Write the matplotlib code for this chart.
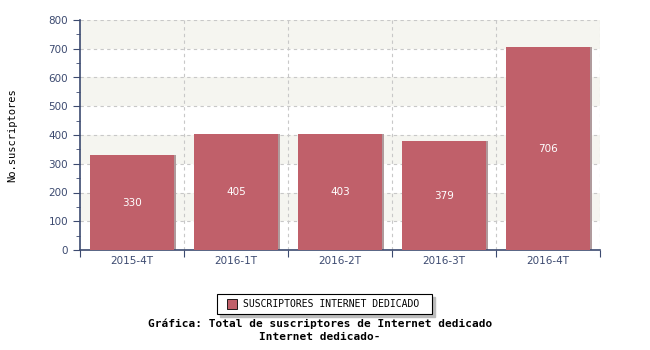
import matplotlib
matplotlib.use("Agg")
import matplotlib.pyplot as plt
from matplotlib.patches import Rectangle
import numpy as np

# data
categories = ["2015-4T", "2016-1T", "2016-2T", "2016-3T", "2016-4T"]
suscriptores = [330, 405, 403, 379, 706]
series_name = "SUSCRIPTORES INTERNET DEDICADO"

AXIS = "#3c4a70"
BAR = "#c0606a"

fig = plt.figure(figsize=(6.5, 3.5), dpi=100)
ax = fig.add_axes([80 / 650, 100 / 350, 520 / 650, 230 / 350])

x = np.arange(len(categories))
width = 0.81

# alternating background bands
for lo in range(100, 800, 200):
    ax.axhspan(lo, lo + 100, color="#f5f5f0", zorder=0, lw=0)

# dashed grid
for y in range(100, 801, 100):
    ax.axhline(y, color="#c8c8c8", ls=(0, (3, 3)), lw=0.8, zorder=1)
for b in np.arange(0.5, len(categories), 1.0):
    ax.axvline(b, color="#c8c8c8", ls=(0, (3, 3)), lw=0.8, zorder=1)

# bar shadows, then bars
ax.bar(x + 0.02, suscriptores, width=width, bottom=0, color="#b09a9c",
       zorder=2, lw=0)
bars = ax.bar(x, suscriptores, width=width, color=BAR, zorder=3, lw=0,
              label=series_name)

for xi, v in zip(x, suscriptores):
    ax.text(xi, v / 2, str(v), ha="center", va="center", color="white",
            fontsize=7.5, zorder=4)

ax.set_xlim(-0.5, len(categories) - 0.5)
ax.set_ylim(0, 800)
ax.set_yticks(range(0, 801, 100))
ax.set_yticks(range(50, 800, 100), minor=True)
ax.set_xticks(np.arange(-0.5, len(categories), 1.0))
ax.set_xticklabels([])
ax.set_xticks(x, minor=True)
ax.set_xticklabels(categories, minor=True)
ax.tick_params(axis="x", which="minor", length=0, labelsize=7.5,
               colors=AXIS, pad=4)
ax.tick_params(axis="x", which="major", length=5, color=AXIS)
ax.tick_params(axis="y", which="major", length=5, color=AXIS, labelsize=7.5,
               labelcolor=AXIS)
ax.tick_params(axis="y", which="minor", length=3, color=AXIS)

for s in ["top", "right"]:
    ax.spines[s].set_visible(False)
for s in ["left", "bottom"]:
    ax.spines[s].set_color(AXIS)
    ax.spines[s].set_linewidth(1.2)

fig.text(12 / 650, 1 - 135 / 350, "No.suscriptores", rotation=90,
         ha="center", va="center", fontsize=7.5, family="DejaVu Sans Mono")

# legend box with shadow
lx0, ly0, lw_, lh = 217 / 650, 1 - 314 / 350, 215 / 650, 20 / 350
fig.patches.append(Rectangle((lx0 + 3 / 650, ly0 - 3 / 350), lw_, lh,
                             transform=fig.transFigure, color="#bcbcbc",
                             zorder=1))
fig.patches.append(Rectangle((lx0, ly0), lw_, lh, transform=fig.transFigure,
                             facecolor="white", edgecolor="black", lw=0.8,
                             zorder=2))
fig.patches.append(Rectangle((227 / 650, 1 - 309 / 350), 10 / 650, 10 / 350,
                             transform=fig.transFigure, facecolor=BAR,
                             edgecolor="black", lw=0.6, zorder=3))
fig.text(243 / 650, 1 - 304 / 350, series_name, ha="left", va="center",
         fontsize=7, family="DejaVu Sans Mono", zorder=4)

fig.text(320 / 650, 1 - 324 / 350,
         "Gráfica: Total de suscriptores de Internet dedicado",
         ha="center", va="center", fontsize=8, fontweight="bold",
         family="DejaVu Sans Mono")
fig.text(320 / 650, 1 - 337 / 350, "Internet dedicado-",
         ha="center", va="center", fontsize=8, fontweight="bold",
         family="DejaVu Sans Mono")

fig.savefig("out.png", dpi=100)
